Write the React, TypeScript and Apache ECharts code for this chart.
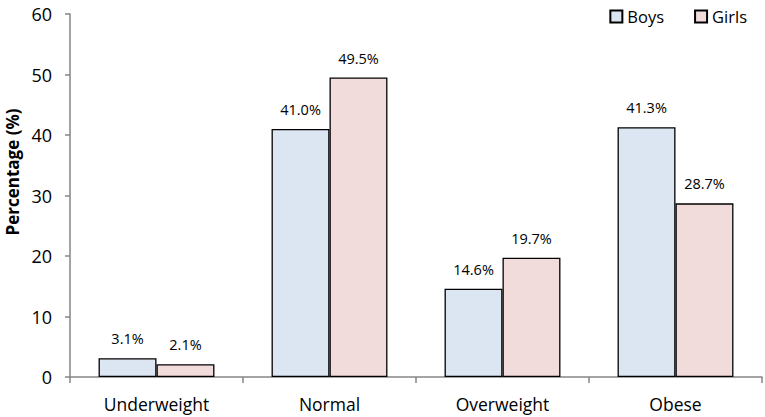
import React, { useEffect, useRef } from "react";
import * as echarts from "echarts";

const categories = ["Underweight", "Normal", "Overweight", "Obese"];
const boys = [3.1, 41.0, 14.6, 41.3];
const girls = [2.1, 49.5, 19.7, 28.7];
const yTicks = [0, 10, 20, 30, 40, 50, 60];

const FONT = "'Open Sans', 'Noto Sans', sans-serif";

export default function App() {
  const ref = useRef<HTMLDivElement>(null);
  useEffect(() => {
    document.body.style.margin = "0";
    const chart = echarts.init(ref.current!, undefined, { renderer: "svg" });
    const label = {
      show: true,
      position: "top",
      distance: 12,
      color: "#000",
      fontSize: 14.5,
      fontFamily: FONT,
      formatter: (p: any) => p.value.toFixed(1) + "%",
    };
    chart.setOption({
      animation: false,
      textStyle: { fontFamily: FONT },
      legend: {
        data: ["Boys", "Girls"],
        icon: "rect",
        top: 3,
        right: 13,
        itemWidth: 12,
        itemHeight: 12,
        itemGap: 30,
        textStyle: { fontSize: 16.5, color: "#000", fontFamily: FONT },
      },
      grid: { left: 70, right: 3, top: 14, bottom: 40, containLabel: false, outerBoundsMode: "none" },
      xAxis: {
        type: "category",
        data: categories,
        axisLine: { lineStyle: { color: "#868686", width: 1.5 } },
        axisTick: { show: true, length: 6, lineStyle: { color: "#868686", width: 1.5 } },
        axisLabel: { color: "#000", fontSize: 17.5, margin: 18, fontFamily: FONT },
      },
      yAxis: {
        type: "value",
        min: yTicks[0],
        max: yTicks[yTicks.length - 1],
        interval: 10,
        name: "Percentage (%)",
        nameLocation: "middle",
        nameGap: 49,
        nameTextStyle: {
          fontSize: 17,
          fontWeight: "bold",
          color: "#000",
          fontFamily: FONT,
          padding: [0, 0, 0, 47],
        },
        axisLine: { show: true, lineStyle: { color: "#868686", width: 1.5 } },
        axisTick: { show: true, length: 5, lineStyle: { color: "#868686", width: 1.5 } },
        axisLabel: { color: "#000", fontSize: 18, margin: 18, fontFamily: FONT },
        splitLine: { show: false },
      },
      series: [
        {
          name: "Boys",
          type: "bar",
          data: boys,
          barGap: "0%",
          barCategoryGap: "33%",
          itemStyle: { color: "#dce6f2", borderColor: "#000", borderWidth: 1.3 },
          label,
        },
        {
          name: "Girls",
          type: "bar",
          data: girls,
          itemStyle: { color: "#f2dcdb", borderColor: "#000", borderWidth: 1.3 },
          label,
        },
      ],
    });
    return () => chart.dispose();
  }, []);
  return (
    <div
      ref={ref}
      style={{ position: "absolute", left: 0, top: 0, width: 765, height: 417, background: "#fff" }}
    />
  );
}
